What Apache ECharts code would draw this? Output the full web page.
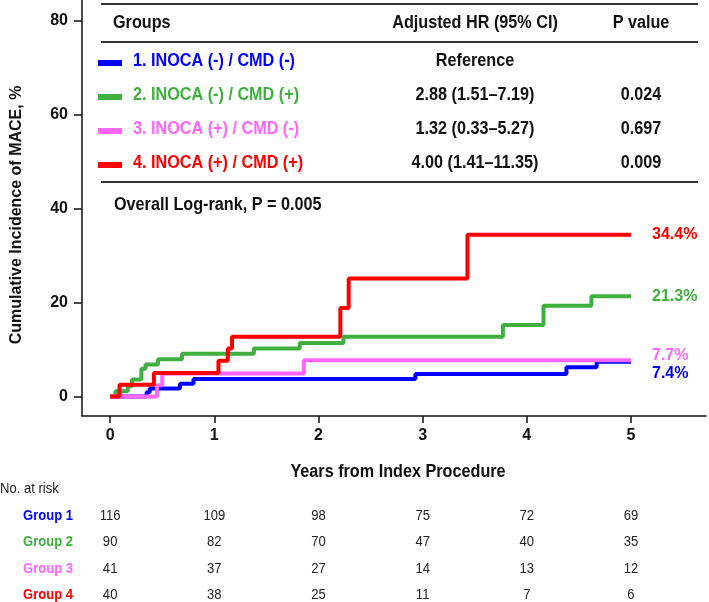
<!DOCTYPE html>
<html><head><meta charset="utf-8">
<script src="https://cdn.jsdelivr.net/npm/echarts@6/dist/echarts.min.js"></script>
<style>html,body{margin:0;padding:0;background:#fff;}#c{width:709px;height:602px;}</style>
</head><body><div id="c"></div>
<script>
// ---- data ----
const groupNames = ['1. INOCA (-) / CMD (-)', '2. INOCA (-) / CMD (+)', '3. INOCA (+) / CMD (-)', '4. INOCA (+) / CMD (+)'];
const groupShort = ['Group 1', 'Group 2', 'Group 3', 'Group 4'];
const groupColors = ['#0000ff', '#3fb03f', '#ff66ff', '#ff0000'];
const hrText = ['Reference', '2.88 (1.51\u20137.19)', '1.32 (0.33\u20135.27)', '4.00 (1.41\u201311.35)'];
const pText = ['', '0.024', '0.697', '0.009'];
const finalLabels = ['7.4%', '21.3%', '7.7%', '34.4%'];

const g1Times  = [0, 0.35, 0.38, 0.67, 0.80, 2.93, 4.38, 4.67, 5.0];
const g1Values = [0, 0.9, 1.7, 2.7, 3.7, 4.8, 6.2, 7.4, 7.4];
const g2Times  = [0, 0.05, 0.17, 0.21, 0.30, 0.34, 0.46, 0.69, 1.38, 1.82, 2.24, 3.77, 4.16, 4.62, 5.0];
const g2Values = [0, 1.1, 2.2, 3.6, 5.9, 6.8, 7.9, 9.1, 10.2, 11.4, 12.7, 15.2, 19.3, 21.3, 21.3];
const g3Times  = [0, 0.45, 0.50, 1.86, 5.0];
const g3Values = [0, 2.4, 4.9, 7.7, 7.7];
const g4Times  = [0, 0.09, 0.42, 1.04, 1.13, 1.17, 2.21, 2.29, 3.43, 5.0];
const g4Values = [0, 2.5, 5.0, 7.6, 10.2, 12.7, 18.8, 25.1, 34.4, 34.4];

const xTicks = [0, 1, 2, 3, 4, 5];
const yTicks = [0, 20, 40, 60, 80];
const riskTimes = [0, 1, 2, 3, 4, 5];
const g1Risk = [116, 109, 98, 75, 72, 69];
const g2Risk = [90, 82, 70, 47, 40, 35];
const g3Risk = [41, 37, 27, 14, 13, 12];
const g4Risk = [40, 38, 25, 11, 7, 6];

// ---- build ----
const times = [g1Times, g2Times, g3Times, g4Times];
const vals = [g1Values, g2Values, g3Values, g4Values];
const risks = [g1Risk, g2Risk, g3Risk, g4Risk];
const endOffsets = [[0, 12], [0, 0], [0, -5], [0, 0]];
const FONT = 'Liberation Sans, Arial, sans-serif';

const chart = echarts.init(document.getElementById('c'), null, {renderer: 'canvas'});

const series = [0, 1, 2, 3].map(i => ({
  type: 'line',
  step: 'end',
  showSymbol: false,
  silent: true,
  z: 2 + i,
  data: times[i].map((t, k) => [t, vals[i][k]]),
  lineStyle: {color: groupColors[i], width: 4},
  itemStyle: {color: groupColors[i]},
  endLabel: {
    show: true,
    formatter: finalLabels[i],
    color: groupColors[i],
    fontFamily: FONT,
    fontWeight: 'bold',
    fontSize: 16,
    distance: 21,
    offset: endOffsets[i]
  }
}));

chart.setOption({
  animation: false,
  grid: {left: 82, right: 3, top: 0, bottom: 186, containLabel: false},
  xAxis: {
    type: 'value', min: -0.27, max: 5.72,
    axisLine: {show: true, onZero: false, lineStyle: {color: '#111', width: 1.5}},
    axisTick: {show: true, customValues: xTicks, length: 7, lineStyle: {color: '#111', width: 1.5}},
    axisLabel: {show: true, customValues: xTicks, margin: 12, color: '#111', fontFamily: FONT, fontWeight: 'bold', fontSize: 16},
    splitLine: {show: false}
  },
  yAxis: {
    type: 'value', min: -4.15, max: 84.35,
    axisLine: {show: true, onZero: false, lineStyle: {color: '#111', width: 1.5}},
    axisTick: {show: true, customValues: yTicks, length: 8, lineStyle: {color: '#111', width: 1.5}},
    axisLabel: {show: true, customValues: yTicks, margin: 14, color: '#111', fontFamily: FONT, fontWeight: 'bold', fontSize: 16},
    splitLine: {show: false}
  },
  series: series
});

// ---- annotations (table + risk table) ----
const g = [];
const lineCol = '#333';
[4, 42, 182].forEach(y => g.push({type: 'line', shape: {x1: 101, y1: y, x2: 698, y2: y}, style: {stroke: lineCol, lineWidth: 2}, silent: true}));
function txt(x, y, s, opt, sx) {
  g.push({type: 'text', x: x, y: y, scaleX: sx || 1, silent: true, style: Object.assign({
    text: s, fill: '#111', font: 'bold 16px ' + FONT, textAlign: 'left', textVerticalAlign: 'middle'
  }, opt || {})});
}
const BIG = 'bold 18px ' + FONT;
const SX = 0.9;
txt(113, 23, 'Groups', {font: BIG}, SX);
txt(475, 23, 'Adjusted HR (95% CI)', {textAlign: 'center', font: BIG}, SX);
txt(641, 23, 'P value', {textAlign: 'center', font: BIG}, SX);
const rowY = [61, 95, 129, 163];
for (let i = 0; i < 4; i++) {
  g.push({type: 'line', shape: {x1: 98, y1: rowY[i] + 2, x2: 122, y2: rowY[i] + 2}, style: {stroke: groupColors[i], lineWidth: 6}, silent: true});
  txt(133, rowY[i], groupNames[i], {fill: groupColors[i], font: BIG}, SX);
  txt(475, rowY[i], hrText[i], {textAlign: 'center', font: BIG}, SX);
  if (pText[i]) txt(641, rowY[i], pText[i], {textAlign: 'center', font: BIG}, SX);
}
txt(114, 205, 'Overall Log-rank, P = 0.005', {font: BIG}, SX);

// axis titles
g.push({type: 'text', x: 17, y: 215, rotation: Math.PI / 2, silent: true, style: {
  text: 'Cumulative Incidence of MACE, %', fill: '#111', font: 'bold 16px ' + FONT, textAlign: 'center', textVerticalAlign: 'middle'}});
txt(398, 472, 'Years from Index Procedure', {textAlign: 'center', font: BIG}, SX);

const SMALL = 'px ' + FONT;
txt(0, 489, 'No. at risk', {font: '14.5px ' + FONT, fill: '#222'}, SX);
const riskY = [516, 542, 569, 595];
for (let i = 0; i < 4; i++) {
  txt(23, riskY[i], groupShort[i], {fill: groupColors[i], font: 'bold 14.5px ' + FONT}, SX);
  riskTimes.forEach((t, k) => {
    const px = chart.convertToPixel({xAxisIndex: 0}, t);
    txt(px, riskY[i], String(risks[i][k]), {textAlign: 'center', font: '14.5px ' + FONT, fill: '#222'}, SX);
  });
}
chart.setOption({graphic: {elements: g}});
</script>
</body></html>
